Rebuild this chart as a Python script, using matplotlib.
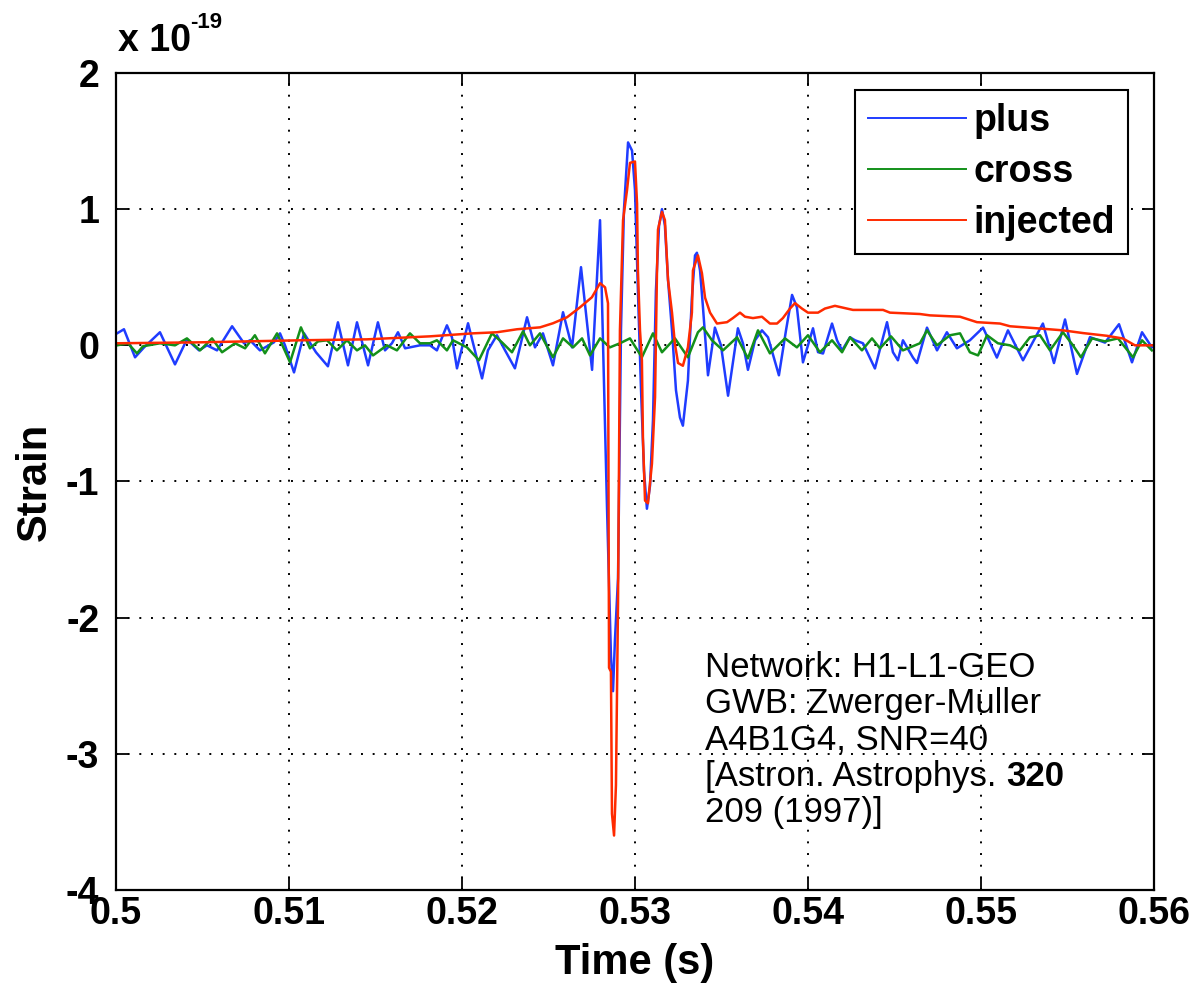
import matplotlib
matplotlib.use('Agg')
import matplotlib.pyplot as plt

# time (s) and strain (x 1e-19)
plus_t = [0.50006, 0.50046, 0.50110, 0.50162, 0.50254, 0.50341, 0.50410, 0.50480, 0.50526, 0.50584,
          0.50671, 0.50740, 0.50775, 0.50832, 0.50913, 0.50948, 0.50977, 0.51029, 0.51087, 0.51156,
          0.51225, 0.51283, 0.51341, 0.51393, 0.51457, 0.51514, 0.51555, 0.51595, 0.51630, 0.51671,
          0.51757, 0.51815, 0.51855, 0.51913, 0.51942, 0.51971, 0.52035, 0.52064, 0.52116, 0.52150,
          0.52202, 0.52249, 0.52306, 0.52376, 0.52422, 0.52468, 0.52526, 0.52584, 0.52636, 0.52688,
          0.52752, 0.52798, 0.52838, 0.52861, 0.52873, 0.52884, 0.52902, 0.52919, 0.52936, 0.52960,
          0.52983, 0.53000, 0.53017, 0.53035, 0.53052, 0.53069, 0.53087, 0.53104, 0.53121, 0.53139,
          0.53156, 0.53173, 0.53191, 0.53214, 0.53237, 0.53260, 0.53277, 0.53306, 0.53329, 0.53347,
          0.53358, 0.53376, 0.53393, 0.53422, 0.53462, 0.53497, 0.53538, 0.53595, 0.53624, 0.53653,
          0.53694, 0.53734, 0.53769, 0.53832, 0.53873, 0.53908, 0.53936, 0.53971, 0.54029, 0.54058,
          0.54087, 0.54139, 0.54168, 0.54197, 0.54243, 0.54272, 0.54318, 0.54387, 0.54457, 0.54491,
          0.54520, 0.54549, 0.54607, 0.54630, 0.54688, 0.54746, 0.54803, 0.54861, 0.54936, 0.55012,
          0.55092, 0.55156, 0.55243, 0.55358, 0.55422, 0.55486, 0.55555, 0.55630, 0.55717, 0.55798,
          0.55873, 0.55931, 0.55988]
plus_y = [0.088, 0.118, -0.088, -0.015, 0.096, -0.140, 0.044, -0.037, 0.0, -0.037,
          0.140, 0.015, 0.037, -0.037, 0.022, 0.088, 0.0, -0.199, 0.088, -0.051,
          -0.154, 0.169, -0.147, 0.169, -0.147, 0.169, -0.037, 0.015, 0.096, -0.022,
          0.0, 0.0, -0.037, 0.147, 0.059, -0.169, 0.162, 0.015, -0.243, -0.037,
          0.074, -0.037, -0.169, 0.206, -0.015, 0.088, -0.147, 0.243, -0.015, 0.574,
          -0.18, 0.919, -1.176, -2.28, -2.54, -2.17, -1.71, 0.11, 0.99, 1.49,
          1.43, 1.14, 0.40, -0.33, -0.92, -1.20, -1.03, -0.55, 0.40, 0.88,
          1.00, 0.88, 0.48, 0.11, -0.33, -0.53, -0.59, -0.26, 0.35, 0.66,
          0.68, 0.55, 0.28, -0.22, 0.13, 0.0, -0.37, 0.125, 0.015, -0.18,
          0.037, 0.11, 0.059, -0.22, 0.11, 0.37, 0.28, -0.125, 0.125, -0.05,
          -0.06, 0.16, 0.037, -0.037, 0.059, 0.037, 0.015, -0.17, 0.17, -0.05,
          -0.11, 0.037, -0.09, -0.13, 0.13, -0.037, 0.096, -0.022, 0.037, 0.13,
          -0.09, 0.11, -0.11, 0.16, -0.13, 0.19, -0.21, 0.06, 0.02, 0.155,
          -0.125, 0.096, -0.015]

cross_t = [0.50006, 0.50069, 0.50121, 0.50156, 0.50254, 0.50341, 0.50410, 0.50486, 0.50555, 0.50613,
           0.50688, 0.50746, 0.50803, 0.50861, 0.50931, 0.51006, 0.51069, 0.51121, 0.51168, 0.51220,
           0.51277, 0.51335, 0.51393, 0.51439, 0.51486, 0.51566, 0.51624, 0.51699, 0.51757, 0.51815,
           0.51855, 0.51913, 0.51948, 0.52029, 0.52098, 0.52173, 0.52231, 0.52289, 0.52353, 0.52393,
           0.52451, 0.52526, 0.52584, 0.52642, 0.52694, 0.52740, 0.52798, 0.52855, 0.52913, 0.52971,
           0.53040, 0.53104, 0.53156, 0.53231, 0.53306, 0.53364, 0.53393, 0.53445, 0.53509, 0.53590,
           0.53653, 0.53711, 0.53780, 0.53867, 0.53936, 0.54000, 0.54069, 0.54139, 0.54197, 0.54243,
           0.54312, 0.54370, 0.54416, 0.54480, 0.54549, 0.54647, 0.54688, 0.54746, 0.54821, 0.54879,
           0.54936, 0.54983, 0.55035, 0.55098, 0.55168, 0.55225, 0.55283, 0.55341, 0.55399, 0.55474,
           0.55532, 0.55578, 0.55642, 0.55717, 0.55792, 0.55879, 0.55931, 0.55988]
cross_y = [0.0, 0.015, -0.059, -0.007, 0.015, 0.0, 0.051, -0.037, 0.051, -0.051,
           0.015, -0.022, 0.074, -0.059, 0.088, -0.125, 0.132, -0.022, 0.029, 0.037,
           -0.037, 0.037, -0.037, 0.0, -0.074, 0.0, -0.037, 0.088, 0.015, 0.015,
           0.037, -0.037, 0.037, -0.015, -0.110, 0.088, 0.022, -0.051, 0.103, 0.0,
           0.088, -0.088, 0.051, -0.015, 0.051, -0.074, 0.051, -0.015, 0.015, 0.051,
           -0.088, 0.088, -0.051, 0.051, -0.088, 0.096, 0.132, 0.037, -0.037, 0.059,
           -0.096, 0.110, -0.059, 0.051, -0.015, 0.074, -0.051, 0.037, -0.051, 0.059,
           -0.037, 0.051, -0.022, 0.066, -0.037, 0.015, 0.110, 0.0, 0.074, 0.088,
           -0.051, -0.074, 0.074, 0.015, 0.0, -0.037, 0.059, 0.074, -0.037, 0.096,
           0.0, -0.088, 0.051, 0.029, 0.051, -0.088, 0.037, -0.037]

injected_t = [0.50000, 0.50486, 0.51064, 0.51451, 0.51815, 0.52064, 0.52202, 0.52318, 0.52451, 0.52526,
              0.52607, 0.52682, 0.52751, 0.52798, 0.52827, 0.52844, 0.52850, 0.52861, 0.52867, 0.52879,
              0.52890, 0.52902, 0.52913, 0.52931, 0.52954, 0.52971, 0.53000, 0.53012, 0.53017, 0.53029,
              0.53040, 0.53046, 0.53058, 0.53075, 0.53098, 0.53116, 0.53127, 0.53133, 0.53156, 0.53173,
              0.53191, 0.53214, 0.53231, 0.53249, 0.53277, 0.53306, 0.53329, 0.53335, 0.53364, 0.53387,
              0.53405, 0.53434, 0.53474, 0.53532, 0.53566, 0.53607, 0.53636, 0.53682, 0.53734, 0.53780,
              0.53821, 0.53855, 0.53896, 0.53925, 0.53965, 0.54000, 0.54058, 0.54098, 0.54156, 0.54225,
              0.54260, 0.54434, 0.54474, 0.54647, 0.54705, 0.54879, 0.54977, 0.55110, 0.55168, 0.55324,
              0.55474, 0.55590, 0.55728, 0.55821, 0.55890, 0.55988]
injected_y = [0.015, 0.022, 0.037, 0.044, 0.066, 0.088, 0.096, 0.118, 0.132, 0.162,
              0.206, 0.279, 0.353, 0.456, 0.426, 0.309, -2.368, -2.397, -3.44, -3.60,
              -3.23, -1.89, 0.110, 0.919, 1.14, 1.34, 1.35, 1.04, 0.55, 0.11,
              -0.11, -0.68, -1.14, -1.16, -0.87, -0.38, 0.53, 0.85, 0.98, 0.92,
              0.48, 0.24, 0.01, -0.13, -0.15, -0.015, 0.24, 0.55, 0.66, 0.53,
              0.35, 0.24, 0.16, 0.17, 0.20, 0.24, 0.21, 0.20, 0.21, 0.16,
              0.16, 0.20, 0.27, 0.31, 0.27, 0.24, 0.24, 0.27, 0.29, 0.27,
              0.26, 0.26, 0.24, 0.23, 0.22, 0.21, 0.17, 0.16, 0.14, 0.125,
              0.11, 0.09, 0.07, 0.05, 0.0, 0.0]

x_ticks = [0.5, 0.51, 0.52, 0.53, 0.54, 0.55, 0.56]
x_ticklabels = ['0.5', '0.51', '0.52', '0.53', '0.54', '0.55', '0.56']
y_ticks = [-4, -3, -2, -1, 0, 1, 2]

note_lines = ['Network: H1-L1-GEO', 'GWB: Zwerger-Muller', 'A4B1G4, SNR=40',
              '[Astron. Astrophys. ', '209 (1997)]']
note_bold = '320'

plt.rcParams['font.family'] = ['Liberation Sans', 'DejaVu Sans']
plt.rcParams['axes.unicode_minus'] = False

fig = plt.figure(figsize=(11.91, 9.89), dpi=100)
ax = fig.add_axes([0.0974, 0.1001, 0.8715, 0.8261])

ax.plot(plus_t, plus_y, color='#1f3cff', lw=1.8, label='plus')
ax.plot(cross_t, cross_y, color='#13901a', lw=1.8, label='cross')
ax.plot(injected_t, injected_y, color='#ff2a00', lw=1.8, label='injected')

ax.set_xlim(0.5, 0.56)
ax.set_ylim(-4, 2)
ax.set_xticks(x_ticks)
ax.set_xticklabels(x_ticklabels)
ax.set_yticks(y_ticks)
ax.grid(True, linestyle=(0, (1, 5)), color='k', linewidth=1.4)
ax.tick_params(direction='in', top=True, right=True, length=9, width=1.3, labelsize=27)
ax.tick_params(axis='x', pad=4)
ax.tick_params(axis='y', pad=12)
for lab in ax.get_xticklabels() + ax.get_yticklabels():
    lab.set_fontweight('bold')
for sp in ax.spines.values():
    sp.set_linewidth(1.6)

ax.set_xlabel('Time (s)', fontsize=30, fontweight='bold', labelpad=8)
ax.set_ylabel('Strain', fontsize=30, fontweight='bold', labelpad=8)

fig.text(0.099, 0.948, 'x 10', fontsize=27, fontweight='bold')
fig.text(0.160, 0.972, '-19', fontsize=16, fontweight='bold')

leg = ax.legend(loc='upper right', bbox_to_anchor=(0.975, 0.979), borderaxespad=0,
                prop={'weight': 'bold', 'size': 27}, fancybox=False,
                edgecolor='k', framealpha=1, handlelength=2.6, handletextpad=0.2,
                labelspacing=0.4, borderpad=0.35)
leg.get_frame().set_linewidth(1.5)
for h in leg.get_lines():
    h.set_linewidth(1.4)

ys = [0.2607, 0.2166, 0.1714, 0.1273, 0.0832]
for line, y in zip(note_lines, ys):
    t = ax.text(0.5674, y, line, transform=ax.transAxes, fontsize=25, va='baseline')
    if line.startswith('[Astron'):
        ax.annotate(note_bold, xy=(1, 0), xycoords=t, fontsize=25, fontweight='bold',
                    va='bottom', ha='left')

fig.savefig('out.png', dpi=100)
